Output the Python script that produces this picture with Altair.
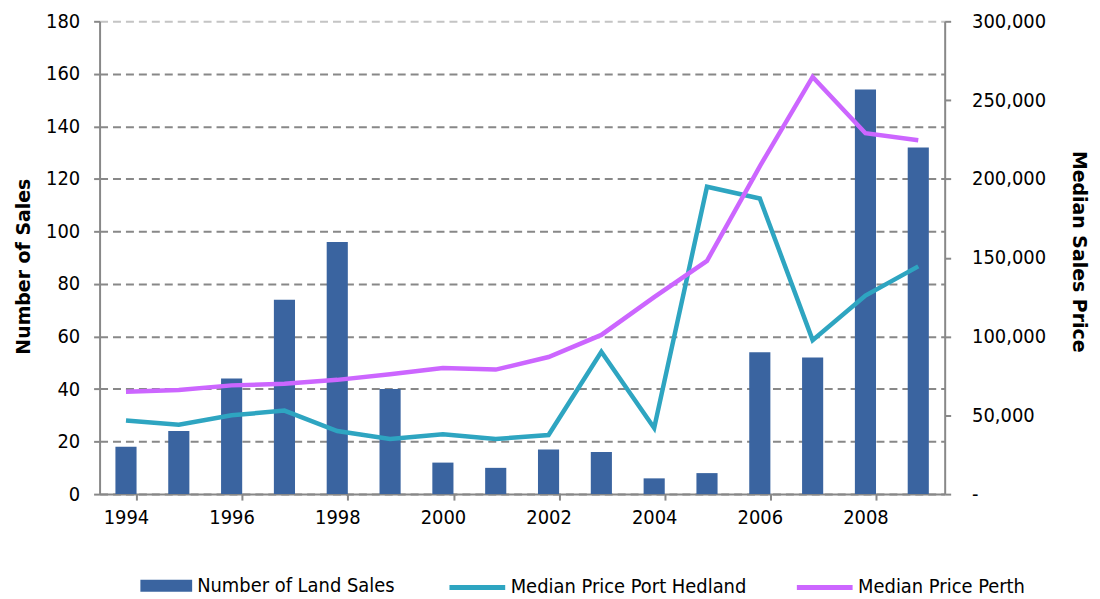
import altair as alt
import pandas as pd

years = list(range(1994, 2010))
land_sales = [18, 24, 44, 74, 96, 40, 12, 10, 17, 16, 6, 8, 54, 52, 154, 132]
price_port_hedland = [46700, 44000, 50000, 53000, 40000, 35000, 38000, 35000, 37500,
                      90300, 42000, 195000, 187600, 97700, 126000, 144500]
price_perth = [65000, 66000, 69000, 70000, 72500, 76000, 80000, 79000, 87000,
               101000, 125000, 148000, 208000, 264700, 229000, 224500]

bars_df = pd.DataFrame({"year": years, "sales": land_sales, "series": "Number of Land Sales"})
lines_df = pd.DataFrame({
    "year": years * 2,
    "price": price_port_hedland + price_perth,
    "series": ["Median Price Port Hedland"] * len(years) + ["Median Price Perth"] * len(years),
})

FONT = "DejaVu Sans Condensed, DejaVu Sans"
TFONT = "DejaVu Sans"
BAR_C = "#3A64A0"
TEAL = "#2EA5C1"
VIOLET = "#CC66FF"
GRAY = "#888888"
FS = 20

x_enc = alt.X(
    "year:O",
    title=None,
    scale=alt.Scale(paddingInner=0.6, paddingOuter=0.3),
    axis=alt.Axis(
        labelAngle=0,
        labelExpr="datum.value % 2 == 0 ? datum.label : ''",
        tickBand="extent",
        tickSize=6,
        tickColor=GRAY,
        tickWidth=2,
        domainColor=GRAY,
        domainWidth=2,
        labelFontSize=FS,
        labelFont=FONT,
        labelColor="#000000",
        labelPadding=8,
        grid=False,
        tickOpacity={"condition": {"test": "datum.value % 2 == 0", "value": 1}, "value": 0},
    ),
)

bars = alt.Chart(bars_df).mark_bar(width={"band": 1}).encode(
    x=x_enc,
    y=alt.Y(
        "sales:Q",
        title="Number of Sales",
        scale=alt.Scale(domain=[0, 180]),
        axis=alt.Axis(
            values=list(range(0, 181, 20)),
            orient="left",
            grid=True,
            gridDash=[8, 5],
            gridColor={"condition": {"test": "datum.value == 180", "value": "#c4c4c4"}, "value": GRAY},
            gridWidth=2,
            domainColor=GRAY,
            domainWidth=2,
            tickColor=GRAY,
            tickWidth=2,
            tickSize=6,
            labelFontSize=FS,
            labelFont=FONT,
            labelColor="#000000",
            labelPadding=14,
            titleFont=TFONT,
            titleFontSize=19,
            titleFontWeight="bold",
            titleColor="#000000",
            titlePadding=12,
            titleY=246,
        ),
    ),
    fill=alt.Fill(
        "series:N",
        scale=alt.Scale(domain=["Number of Land Sales"], range=[BAR_C]),
        legend=alt.Legend(
            title=None,
            orient="none",
            legendX=41,
            legendY=541,
            symbolType="M-1,-0.23H1V0.23H-1Z",
            symbolSize=2704,
            symbolStrokeWidth=0,
            labelFontSize=FS,
            labelFont=FONT,
            labelColor="#000000",
            labelOffset=5,
            labelLimit=400,
        ),
    ),
)

lines = alt.Chart(lines_df).mark_line(strokeWidth=4.5).encode(
    x=x_enc,
    y=alt.Y(
        "price:Q",
        title="Median Sales Price",
        scale=alt.Scale(domain=[0, 300000]),
        axis=alt.Axis(
            values=list(range(0, 300001, 50000)),
            orient="right",
            grid=False,
            domainColor=GRAY,
            domainWidth=2,
            tickColor=GRAY,
            tickWidth=2,
            tickSize=6,
            labelFontSize=FS,
            labelFont=FONT,
            labelColor="#000000",
            labelPadding=21,
            labelExpr="datum.value == 0 ? '-' : format(datum.value, ',')",
            titleFont=TFONT,
            titleFontSize=19,
            titleFontWeight="bold",
            titleColor="#000000",
            titleAngle=90,
            titlePadding=23,
            titleY=231,
        ),
    ),
    stroke=alt.Stroke(
        "series:N",
        scale=alt.Scale(domain=["Median Price Port Hedland", "Median Price Perth"], range=[TEAL, VIOLET]),
        legend=alt.Legend(
            title=None,
            orient="none",
            legendX=349,
            legendY=538,
            direction="horizontal",
            symbolType="stroke",
            symbolStrokeWidth=5,
            symbolSize=3136,
            labelFontSize=FS,
            labelFont=FONT,
            labelColor="#000000",
            columnPadding=40,
            labelOffset=3,
            labelLimit=400,
        ),
    ),
    detail="series:N",
)

chart = alt.layer(bars, lines).resolve_scale(y="independent", fill="independent", stroke="independent").properties(
    width=849,
    height=475,
    padding={"left": 92, "top": 12, "right": 148, "bottom": 104},
    autosize="none",
).configure_view(stroke=None)

chart.save("out.html", embed_options={"renderer": "svg", "actions": False})
